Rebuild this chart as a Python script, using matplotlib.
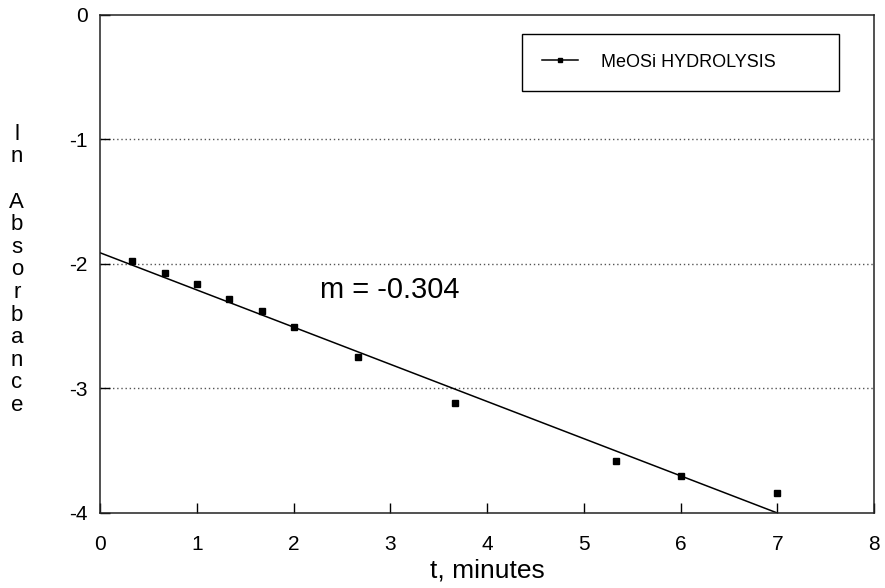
import matplotlib
matplotlib.use('Agg')
import matplotlib.pyplot as plt

# ── Data ──────────────────────────────────────────────────────────────────────
t_min = [0.33, 0.67, 1.0, 1.33, 1.67, 2.0, 2.67, 3.67, 5.33, 6.0, 7.0]
ln_abs = [-1.98, -2.07, -2.16, -2.28, -2.38, -2.51, -2.75, -3.12, -3.58, -3.70, -3.84]

fit_t = [0.0, 7.0]
fit_ln = [-1.91, -4.0]
slope_label = 'm = -0.304'

x_ticks = [0, 1, 2, 3, 4, 5, 6, 7, 8]
y_ticks = [0, -1, -2, -3, -4]
grid_y = [-1, -2, -3]
series_name = 'MeOSi HYDROLYSIS'

plt.rcParams['font.family'] = ['Liberation Sans', 'DejaVu Sans']
plt.rcParams['axes.unicode_minus'] = False

fig = plt.figure(figsize=(8.85, 5.88), dpi=100)
ax = fig.add_axes([0.113, 0.1276, 0.8746, 0.847])

for g in grid_y:
    ax.axhline(g, color='#555555', lw=1.0, ls=(0, (1, 2)), zorder=1)

ax.plot(fit_t, fit_ln, color='black', lw=1.1, zorder=2)
ax.plot(t_min, ln_abs, ls='none', marker='s', ms=4, color='black', zorder=3)

# legend handle: line with marker
h, = ax.plot([], [], color='black', lw=1.1, marker='s', ms=3.5)
leg = ax.legend([h], [series_name], loc='upper left', mode='expand',
                bbox_to_anchor=(0.545, 0.962, 0.41, 0.0), borderaxespad=0,
                fancybox=False, framealpha=1, edgecolor='black', numpoints=1,
                handlelength=2.0, handletextpad=1.3, borderpad=1.1,
                prop={'size': 13})
leg.get_frame().set_linewidth(1.0)

ax.text(2.27, -2.21, slope_label, fontsize=21, va='center', ha='left')

ax.set_xlim(0, 8)
ax.set_ylim(-4, 0)
ax.set_xticks(x_ticks)
ax.set_yticks(y_ticks)
ax.tick_params(direction='in', length=7, width=1, labelsize=15)
ax.tick_params(axis='x', pad=16)
ax.tick_params(axis='y', pad=9)
for sp in ax.spines.values():
    sp.set_linewidth(1.1)
    sp.set_color('#222222')

ax.set_xlabel('t, minutes', fontsize=19, labelpad=3)

fig.text(0.019, 0.541, '\n'.join('ln Absorbance'), ha='center', va='center',
         fontsize=16, linespacing=1.1)

fig.savefig('out.png', dpi=100)
